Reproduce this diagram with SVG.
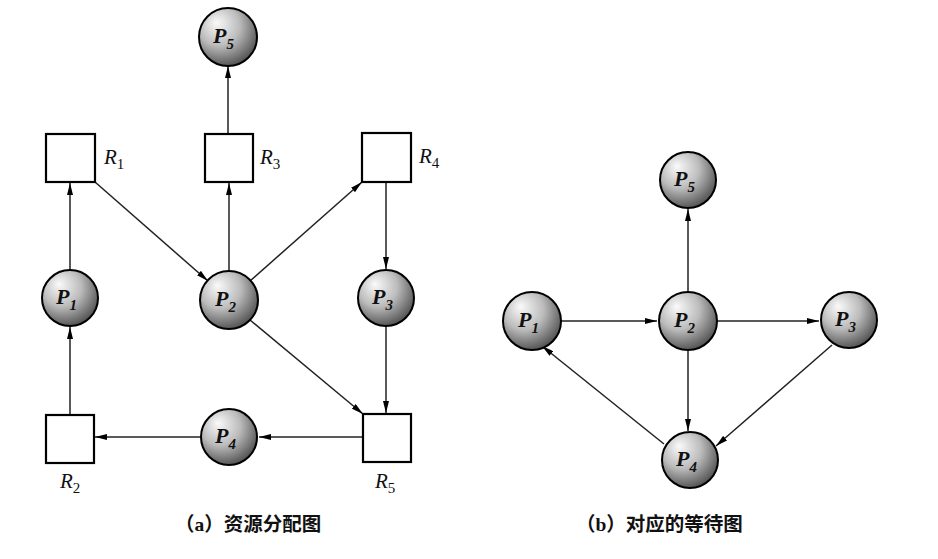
<svg xmlns="http://www.w3.org/2000/svg" width="938" height="559" viewBox="0 0 938 559">
<style>
.box{fill:#fff;stroke:#000;stroke-width:2.2}
.proc{fill:url(#ball);stroke:#000;stroke-width:2}
.lbl{font-family:"Liberation Serif",serif;font-style:italic;font-weight:bold;font-size:22px;fill:#111}
.rl{font-family:"Liberation Serif",serif;font-style:italic;font-size:21px;fill:#111}
.sub{font-size:15px;font-style:normal}
.lbl .sub{font-style:italic}
.edge{stroke:#222;stroke-width:1.5;fill:none;marker-end:url(#ah)}
.cap{font-family:"Liberation Serif","Noto Sans CJK SC",serif;font-size:19.5px;font-weight:bold;fill:#111}
</style>
<defs>
<radialGradient id="ball" cx="0.4" cy="0.35" r="0.7" fx="0.3" fy="0.25">
<stop offset="0" stop-color="#fafafa"/>
<stop offset="0.5" stop-color="#bcbcbc"/>
<stop offset="1" stop-color="#4a4a4a"/>
</radialGradient>
<marker id="ah" viewBox="0 0 12 6" refX="12" refY="3" markerWidth="12" markerHeight="6" markerUnits="userSpaceOnUse" orient="auto">
<path d="M0,0 L12,3 L0,6 Z" fill="#000"/>
</marker>
</defs>
<g id="connectors">
<line class="edge" x1="228" y1="134" x2="228" y2="66"/>
<line class="edge" x1="70" y1="270" x2="70" y2="183"/>
<line class="edge" x1="95" y1="182" x2="208" y2="281"/>
<line class="edge" x1="229" y1="271" x2="229" y2="183"/>
<line class="edge" x1="250" y1="281" x2="362" y2="182"/>
<line class="edge" x1="386" y1="182" x2="386" y2="269"/>
<line class="edge" x1="250" y1="320" x2="363" y2="414"/>
<line class="edge" x1="386" y1="327" x2="386" y2="413"/>
<line class="edge" x1="363" y1="437" x2="259" y2="437"/>
<line class="edge" x1="200" y1="437" x2="95" y2="437"/>
<line class="edge" x1="70" y1="415" x2="70" y2="327"/>
<line class="edge" x1="561" y1="321" x2="657" y2="321"/>
<line class="edge" x1="688" y1="292" x2="688" y2="209"/>
<line class="edge" x1="717" y1="321" x2="819" y2="321"/>
<line class="edge" x1="688" y1="351" x2="688" y2="431"/>
<line class="edge" x1="832" y1="345" x2="716" y2="446"/>
<line class="edge" x1="664" y1="444" x2="542" y2="346"/>
</g>
<g id="nodeP5a"><circle class="proc" cx="228" cy="37" r="29"/><text class="lbl" x="213" y="43">P<tspan class="sub" dy="6">5</tspan></text></g>
<g id="nodeR1"><rect class="box" x="46" y="134" width="49" height="48"/><text class="rl" x="104" y="164">R<tspan class="sub" dy="5">1</tspan></text></g>
<g id="nodeR3"><rect class="box" x="205" y="134" width="48" height="48"/><text class="rl" x="260" y="164">R<tspan class="sub" dy="5">3</tspan></text></g>
<g id="nodeR4"><rect class="box" x="362" y="133" width="49" height="49"/><text class="rl" x="419" y="163">R<tspan class="sub" dy="5">4</tspan></text></g>
<g id="nodeP1a"><circle class="proc" cx="70" cy="298" r="28"/><text class="lbl" x="56" y="304">P<tspan class="sub" dy="6">1</tspan></text></g>
<g id="nodeP2a"><circle class="proc" cx="229" cy="300" r="29"/><text class="lbl" x="215" y="306">P<tspan class="sub" dy="6">2</tspan></text></g>
<g id="nodeP3a"><circle class="proc" cx="386" cy="298" r="28"/><text class="lbl" x="372" y="304">P<tspan class="sub" dy="6">3</tspan></text></g>
<g id="nodeR2"><rect class="box" x="46" y="415" width="48" height="48"/><text class="rl" x="60" y="488">R<tspan class="sub" dy="5">2</tspan></text></g>
<g id="nodeP4a"><circle class="proc" cx="229" cy="437" r="28"/><text class="lbl" x="215" y="443">P<tspan class="sub" dy="6">4</tspan></text></g>
<g id="nodeR5"><rect class="box" x="363" y="414" width="48" height="48"/><text class="rl" x="375" y="488">R<tspan class="sub" dy="5">5</tspan></text></g>
<g id="nodeP5b"><circle class="proc" cx="688" cy="180" r="28"/><text class="lbl" x="674" y="186">P<tspan class="sub" dy="6">5</tspan></text></g>
<g id="nodeP1b"><circle class="proc" cx="532" cy="321" r="29"/><text class="lbl" x="518" y="327">P<tspan class="sub" dy="6">1</tspan></text></g>
<g id="nodeP2b"><circle class="proc" cx="688" cy="321" r="29"/><text class="lbl" x="674" y="327">P<tspan class="sub" dy="6">2</tspan></text></g>
<g id="nodeP3b"><circle class="proc" cx="849" cy="320" r="28"/><text class="lbl" x="835" y="326">P<tspan class="sub" dy="6">3</tspan></text></g>
<g id="nodeP4b"><circle class="proc" cx="690" cy="460" r="28"/><text class="lbl" x="676" y="466">P<tspan class="sub" dy="6">4</tspan></text></g>
<text class="cap" x="175" y="531">（a）资源分配图</text>
<text class="cap" x="576" y="531">（b）对应的等待图</text>
</svg>
